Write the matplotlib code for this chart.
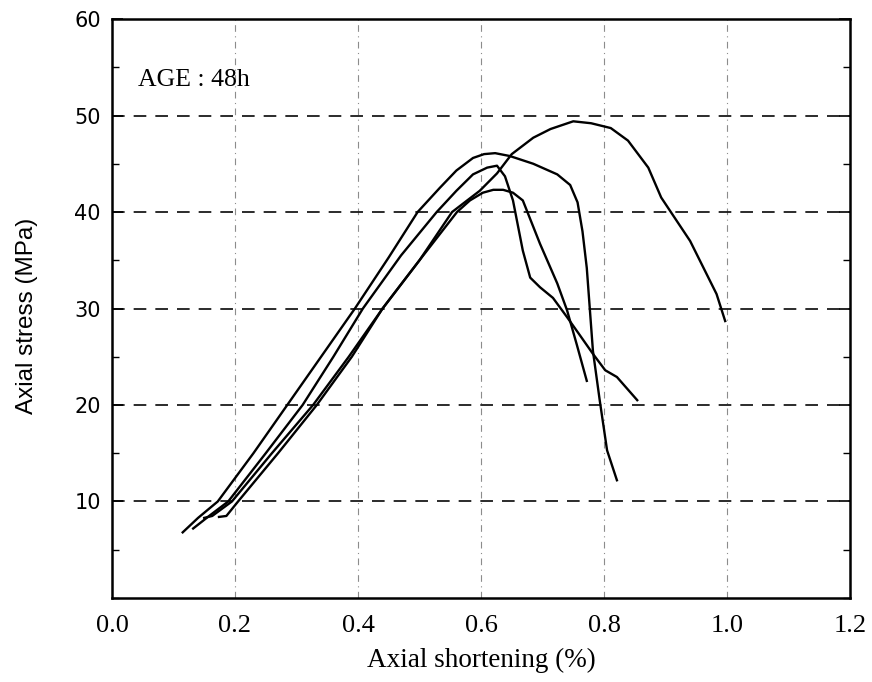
import matplotlib
matplotlib.use("Agg")
import matplotlib.pyplot as plt
from matplotlib.ticker import MultipleLocator

# stress-strain curves (axial shortening %, axial stress MPa)
curve_a_x = [0.115, 0.14, 0.172, 0.23, 0.285, 0.34, 0.395, 0.45, 0.497, 0.533, 0.56, 0.587,
             0.605, 0.623, 0.647, 0.685, 0.724, 0.745, 0.757, 0.765, 0.772, 0.782, 0.793, 0.805, 0.821]
curve_a_y = [6.8, 8.3, 10.0, 15.0, 20.0, 25.0, 30.0, 35.3, 40.0, 42.5, 44.3, 45.6,
             46.0, 46.1, 45.8, 45.0, 43.9, 42.8, 41.0, 38.0, 34.2, 25.6, 20.5, 15.3, 12.2]

curve_b_x = [0.132, 0.16, 0.189, 0.25, 0.31, 0.36, 0.408, 0.47, 0.528, 0.56, 0.587, 0.61,
             0.626, 0.639, 0.652, 0.668, 0.68, 0.696, 0.717, 0.74, 0.76, 0.782, 0.802, 0.821, 0.854]
curve_b_y = [7.2, 8.6, 10.0, 15.0, 20.0, 25.0, 30.0, 35.5, 40.0, 42.2, 43.9, 44.6,
             44.8, 43.7, 41.2, 36.0, 33.2, 32.2, 31.1, 29.1, 27.3, 25.3, 23.6, 22.9, 20.5]

curve_c_x = [0.15, 0.163, 0.195, 0.26, 0.327, 0.385, 0.44, 0.50, 0.561, 0.582, 0.603, 0.62,
             0.636, 0.652, 0.668, 0.696, 0.724, 0.74, 0.756, 0.772]
curve_c_y = [8.3, 8.5, 10.0, 15.0, 20.0, 25.0, 30.0, 35.0, 40.0, 41.2, 42.0, 42.3,
             42.3, 42.0, 41.2, 36.7, 32.6, 29.8, 26.2, 22.5]

curve_d_x = [0.174, 0.186, 0.205, 0.27, 0.333, 0.39, 0.44, 0.50, 0.553, 0.598, 0.626, 0.65,
             0.685, 0.713, 0.75, 0.779, 0.811, 0.839, 0.872, 0.893, 0.94, 0.983, 0.997]
curve_d_y = [8.4, 8.5, 10.0, 15.0, 20.0, 25.0, 30.0, 35.0, 40.0, 42.2, 44.0, 46.0,
             47.7, 48.6, 49.4, 49.2, 48.7, 47.4, 44.6, 41.5, 37.0, 31.5, 28.7]

x_ticks = [0.0, 0.2, 0.4, 0.6, 0.8, 1.0, 1.2]
x_tick_labels = ["0.0", "0.2", "0.4", "0.6", "0.8", "1.0", "1.2"]
y_ticks = [10, 20, 30, 40, 50, 60]
y_tick_labels = ["10", "20", "30", "40", "50", "60"]

fig = plt.figure(figsize=(8.72, 6.82), dpi=100)
ax = fig.add_axes([0.1284, 0.1232, 0.8464, 0.8489])

# grid: vertical faint dash-dot, horizontal dark dashed
for gx in x_ticks[1:-1]:
    ax.axvline(gx, color="0.55", lw=0.8, ls=(0, (6, 4, 1, 4)), zorder=1)
for gy in y_ticks[:-1]:
    ax.axhline(gy, color="0.1", lw=1.3, ls=(0, (7, 5)), zorder=1)

for xs, ys in [(curve_a_x, curve_a_y), (curve_b_x, curve_b_y),
               (curve_c_x, curve_c_y), (curve_d_x, curve_d_y)]:
    ax.plot(xs, ys, color="black", lw=1.7, solid_joinstyle="round", zorder=3)

ax.set_xlim(0, 1.2)
ax.set_ylim(0, 60)

ax.set_xticks(x_ticks)
ax.set_xticklabels(x_tick_labels, family="Liberation Serif", fontsize=19)
ax.set_yticks(y_ticks)
ax.set_yticklabels(y_tick_labels, family="DejaVu Sans", fontsize=15)
ax.yaxis.set_minor_locator(MultipleLocator(5))
ax.tick_params(axis="x", length=0, pad=12)
ax.tick_params(axis="y", which="major", direction="in", length=8, width=1.2,
               left=True, right=True, pad=8)
ax.tick_params(axis="y", which="minor", direction="in", length=5, width=1.0,
               left=True, right=True)

for sp in ax.spines.values():
    sp.set_linewidth(1.8)

ax.text(0.035, 0.885, "AGE : 48h", transform=ax.transAxes,
        family="Liberation Serif", fontsize=18.5)

ax.set_xlabel("Axial shortening (%)", family="Liberation Serif", fontsize=19.5, labelpad=8)
ax.set_ylabel("Axial stress (MPa)", family="Liberation Sans", fontsize=17.5)
ax.yaxis.set_label_coords(-0.100, 0.487)

fig.savefig("out.png", dpi=100)
